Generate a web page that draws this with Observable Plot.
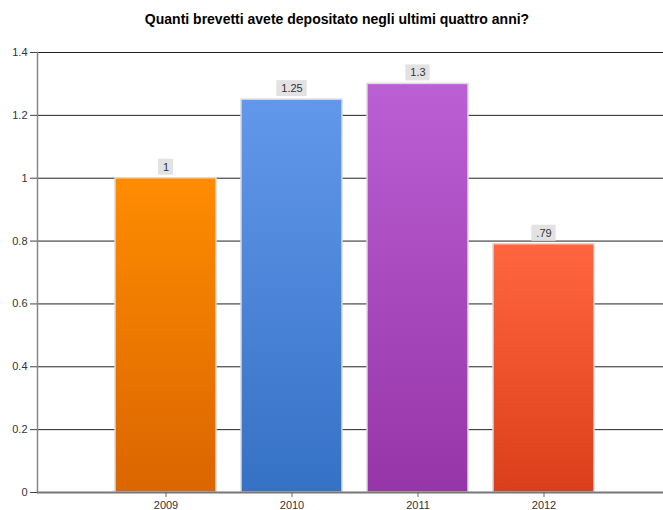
<!DOCTYPE html>
<html><head><meta charset="utf-8">
<script src="https://cdn.jsdelivr.net/npm/d3@7"></script>
<script src="https://cdn.jsdelivr.net/npm/@observablehq/plot@0.6"></script>
<style>
body{margin:0;background:#fff;font-family:"Liberation Sans",Arial,sans-serif;}
#title{width:663px;height:38px;line-height:38px;font-weight:bold;font-size:14px;text-align:center;padding-left:11px;box-sizing:border-box;color:#000;}
</style></head><body>
<div id="title">Quanti brevetti avete depositato negli ultimi quattro anni?</div>
<div id="chart"></div>
<script>
const years = ["2009", "2010", "2011", "2012"];
const values = [1, 1.25, 1.3, 0.79];
const valueLabels = ["1", "1.25", "1.3", ".79"];
const topColors = ["#ff8c00", "#6298ec", "#bb5fd4", "#ff6640"];
const bottomColors = ["#db6500", "#3571c4", "#9535a8", "#db3e1a"];
const yTicks = [0, 0.2, 0.4, 0.6, 0.8, 1, 1.2, 1.4];

const data = years.map((y, i) => ({year: y, value: values[i], label: valueLabels[i], fill: `url(#grad${i})`}));

const plot = Plot.plot({
  width: 663,
  height: 472,
  marginTop: 14,
  marginBottom: 18,
  marginLeft: 37,
  marginRight: 0,
  style: {fontFamily: "'Liberation Sans', Arial, sans-serif", fontSize: "11px", color: "#333", background: "#fff"},
  x: {type: "band", domain: years, paddingInner: 0.2, paddingOuter: 0.5646, align: 0.53, label: null},
  y: {domain: [0, 1.4], label: null},
  color: {type: "identity"},
  marks: [
    Plot.ruleY(yTicks.filter(d => d > 0), {stroke: "#222", strokeWidth: 1}),
    Plot.barY(data, {x: "year", y: "value", fill: "fill", stroke: "#dadada", strokeWidth: 1.5}),
    Plot.frame({anchor: "left", stroke: "#888", strokeWidth: 1.5}),
    Plot.ruleY([0], {stroke: "#777", strokeWidth: 2}),
    Plot.axisY({ticks: yTicks, tickSize: 7, tickPadding: 3, tickFormat: d => d3.format("~g")(d), stroke: "#444", fill: "#333", label: null}),
    Plot.axisX({tickSize: 5, tickPadding: 4, stroke: "#666", fill: "#333", label: null}),
    Plot.text(data, {x: "year", y: "value", text: "label", dy: -11, lineAnchor: "middle", fill: "#333", fontSize: 11, className: "vlabel"})
  ]
});

document.getElementById("chart").append(plot);

const svg = d3.select(plot);
const defs = svg.insert("defs", ":first-child");
years.forEach((y, i) => {
  const g = defs.append("linearGradient").attr("id", `grad${i}`).attr("x1", 0).attr("y1", 0).attr("x2", 0).attr("y2", 1);
  g.append("stop").attr("offset", "0%").attr("stop-color", topColors[i]);
  g.append("stop").attr("offset", "100%").attr("stop-color", bottomColors[i]);
});

const xScale = plot.scale("x");
const yScale = plot.scale("y");
const labelGroup = svg.select("g.vlabel").node();
svg.selectAll("g.vlabel text").each(function(d, k) {
  const bb = this.getBBox();
  const cx = xScale.apply(years[k]) + xScale.bandwidth / 2;
  const yTop = yScale.apply(values[k]);
  const w = bb.width + 9;
  svg.insert("rect", () => labelGroup)
    .attr("x", cx - w / 2).attr("width", w)
    .attr("y", yTop - 19).attr("height", 16)
    .attr("fill", "#e2e2e2");
});
</script>
</body></html>
